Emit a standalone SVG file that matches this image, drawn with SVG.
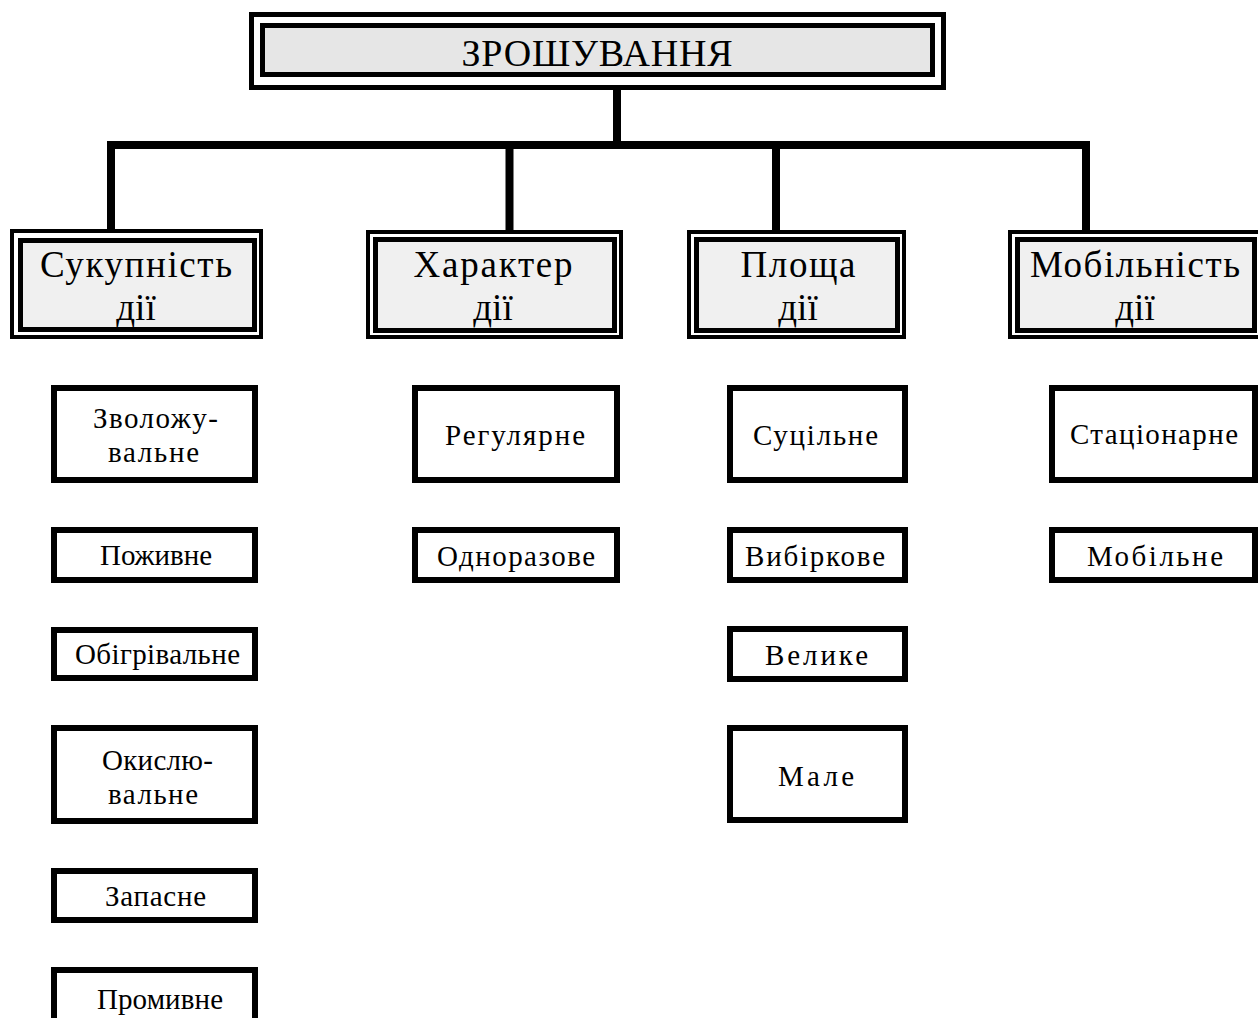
<svg xmlns="http://www.w3.org/2000/svg" width="1258" height="1018" viewBox="0 0 1258 1018">
<style>
  text { font-family: "Liberation Serif", "Times New Roman", serif; fill: #000; text-anchor: middle; }
  .t0 { font-size: 38px; }
  .t1 { font-size: 37px; }
  .t2 { font-size: 29px; }
  .outer { fill: #fff; stroke: #000; stroke-width: 5; }
  .inner0 { fill: #e6e6e6; stroke: #000; stroke-width: 5; }
  .inner1 { fill: #f0f0f0; stroke: #000; stroke-width: 5; }
  .outer1 { fill: #fff; stroke: #000; stroke-width: 4; }
  .box { fill: #fff; stroke: #000; stroke-width: 6; }
  .conn { stroke: #000; stroke-width: 8; fill: none; stroke-linecap: square; }
</style>
<g id="connectors">
  <line class="conn" x1="617" y1="90" x2="617" y2="145"/>
  <line class="conn" x1="111" y1="145" x2="1086" y2="145"/>
  <line class="conn" x1="111" y1="145" x2="111" y2="229"/>
  <line class="conn" x1="509.5" y1="145" x2="509.5" y2="229"/>
  <line class="conn" x1="776" y1="145" x2="776" y2="229"/>
  <line class="conn" x1="1086" y1="145" x2="1086" y2="229"/>
</g>
<g id="root">
  <rect class="outer" x="251.5" y="14.5" width="692" height="73"/>
  <rect class="inner0" x="262.5" y="25.5" width="670" height="49"/>
  <text class="t0" x="597" y="66" textLength="271" lengthAdjust="spacing">ЗРОШУВАННЯ</text>
</g>
<g id="sukupnist">
  <rect class="outer1" x="12" y="231" width="249" height="106"/>
  <rect class="inner1" x="20.5" y="240.5" width="234" height="89"/>
  <text class="t1" x="136" y="277" textLength="192" lengthAdjust="spacing">Сукупність</text>
  <text class="t1" x="136" y="320">дії</text>
</g>
<g id="kharakter">
  <rect class="outer1" x="368" y="232" width="253" height="105"/>
  <rect class="inner1" x="375.5" y="239.5" width="239" height="91"/>
  <text class="t1" x="493" y="277" textLength="159" lengthAdjust="spacing">Характер</text>
  <text class="t1" x="493" y="320">дії</text>
</g>
<g id="ploshcha">
  <rect class="outer1" x="689" y="232" width="215" height="105"/>
  <rect class="inner1" x="696.5" y="239.5" width="201" height="91"/>
  <text class="t1" x="798" y="277" textLength="115" lengthAdjust="spacing">Площа</text>
  <text class="t1" x="798" y="320">дії</text>
</g>
<g id="mobilnist">
  <rect class="outer1" x="1010" y="232" width="251" height="105"/>
  <rect class="inner1" x="1017.5" y="239.5" width="237" height="91"/>
  <text class="t1" x="1135" y="277" textLength="210" lengthAdjust="spacing">Мобільність</text>
  <text class="t1" x="1135" y="320">дії</text>
</g>
<g id="zvolozhuvalne">
  <rect class="box" x="54" y="388" width="201" height="92"/>
  <text class="t2" x="155.5" y="428" textLength="125" lengthAdjust="spacing">Зволожу-</text>
  <text class="t2" x="153.5" y="462" textLength="91" lengthAdjust="spacing">вальне</text>
</g>
<g id="pozhyvne">
  <rect class="box" x="54" y="530" width="201" height="50"/>
  <text class="t2" x="156" y="565" textLength="112" lengthAdjust="spacing">Поживне</text>
</g>
<g id="obihrivalne">
  <rect class="box" x="54" y="630" width="201" height="48"/>
  <text class="t2" x="157.5" y="664" textLength="165" lengthAdjust="spacing">Обігрівальне</text>
</g>
<g id="okysliuvalne">
  <rect class="box" x="54" y="728" width="201" height="93"/>
  <text class="t2" x="157.5" y="770" textLength="111" lengthAdjust="spacing">Окислю-</text>
  <text class="t2" x="153" y="804" textLength="90" lengthAdjust="spacing">вальне</text>
</g>
<g id="zapasne">
  <rect class="box" x="54" y="871" width="201" height="49"/>
  <text class="t2" x="155.5" y="906" textLength="101" lengthAdjust="spacing">Запасне</text>
</g>
<g id="promyvne">
  <rect class="box" x="54" y="970" width="201" height="70"/>
  <text class="t2" x="160" y="1009" textLength="126" lengthAdjust="spacing">Промивне</text>
</g>
<g id="rehuliarne">
  <rect class="box" x="415" y="388" width="202" height="92"/>
  <text class="t2" x="515" y="445" textLength="140" lengthAdjust="spacing">Регулярне</text>
</g>
<g id="odnorazove">
  <rect class="box" x="415" y="530" width="202" height="50"/>
  <text class="t2" x="516" y="566" textLength="158" lengthAdjust="spacing">Одноразове</text>
</g>
<g id="sutsilne">
  <rect class="box" x="730" y="388" width="175" height="92"/>
  <text class="t2" x="815.5" y="445" textLength="125" lengthAdjust="spacing">Суцільне</text>
</g>
<g id="vybirkove">
  <rect class="box" x="730" y="530" width="175" height="50"/>
  <text class="t2" x="815" y="566" textLength="140" lengthAdjust="spacing">Вибіркове</text>
</g>
<g id="velyke">
  <rect class="box" x="730" y="629" width="175" height="50"/>
  <text class="t2" x="816.5" y="665" textLength="103" lengthAdjust="spacing">Велике</text>
</g>
<g id="male">
  <rect class="box" x="730" y="728" width="175" height="92"/>
  <text class="t2" x="816" y="786" textLength="76" lengthAdjust="spacing">Мале</text>
</g>
<g id="statsionarne">
  <rect class="box" x="1052" y="388" width="203" height="92"/>
  <text class="t2" x="1154" y="444" textLength="168" lengthAdjust="spacing">Стаціонарне</text>
</g>
<g id="mobilne">
  <rect class="box" x="1052" y="530" width="203" height="50"/>
  <text class="t2" x="1155" y="566" textLength="136" lengthAdjust="spacing">Мобільне</text>
</g>
</svg>
